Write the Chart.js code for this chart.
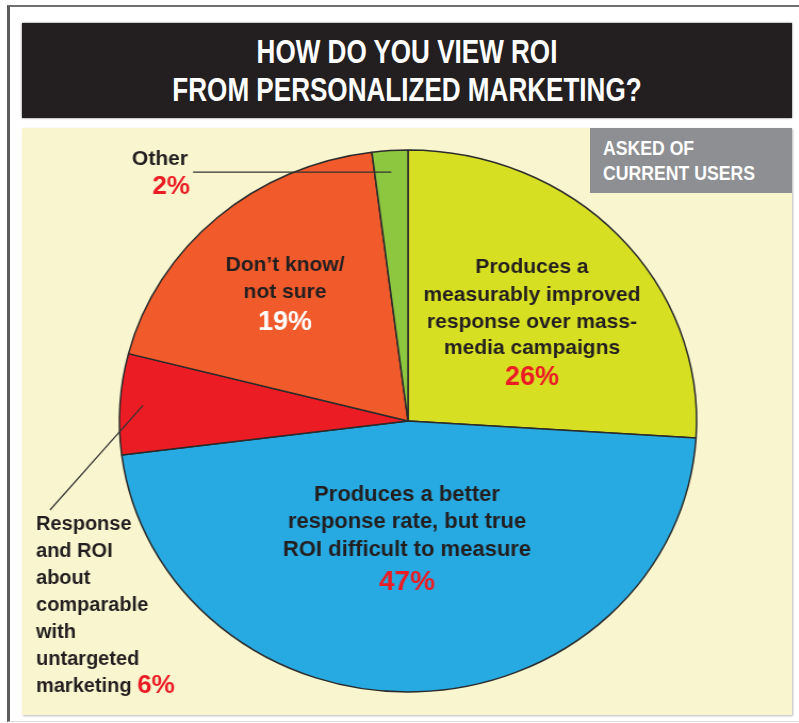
<!DOCTYPE html>
<html>
<head>
<meta charset="utf-8">
<script src="https://cdn.jsdelivr.net/npm/chart.js@4.4.1/dist/chart.umd.min.js"></script>
<style>
  body { margin: 0; background: #fff; width: 799px; height: 723px; overflow: hidden; position: relative;
         font-family: "Liberation Sans", Arial, sans-serif; }
  #frame { position: absolute; left: 7px; top: 5px; width: 800px; height: 717px; box-sizing: border-box;
           border-left: 3px solid #5c5c5c; border-top: 2px solid #707070; border-bottom: 1px solid #ddd; }
  #title { position: absolute; left: 22px; top: 23px; width: 770px; height: 95px; background: #231f20;
           box-shadow: 0 0 2px #666; }
  #title div { position: absolute; left: 0; width: 770px; text-align: center; color: #fff; font-weight: bold;
               font-size: 33px; line-height: 36px; transform: scaleX(0.79); }
  #panel { position: absolute; left: 22px; top: 128px; width: 770px; height: 587px; background: #f9f6cf;
           box-shadow: 1px 1px 2px #bbb; overflow: hidden; }
  #badge { position: absolute; left: 590px; top: 128px; width: 202px; height: 65px; background: #8e8f92; }
  #badge div { position: absolute; left: 13px; color: #fff; font-weight: bold; font-size: 21px; line-height: 24px;
               transform: scaleX(0.84); transform-origin: left center; white-space: nowrap; }
  /* the printed pie is a little wider than tall */
  canvas { position: absolute; left: 0; top: 0; transform: scaleX(1.065); transform-origin: 386px 0; }
</style>
</head>
<body>
<div id="frame"></div>
<div id="title">
  <div style="top:11px">HOW DO YOU VIEW ROI</div>
  <div style="top:49px">FROM PERSONALIZED MARKETING?</div>
</div>
<div id="panel"><canvas id="pieChart" width="770" height="587"></canvas></div>
<div id="badge">
  <div style="top:8px">ASKED OF</div>
  <div style="top:33px">CURRENT USERS</div>
</div>
<script>
// slices, clockwise from 12 o'clock
const categories = [
  "Produces a measurably improved response over mass-media campaigns",
  "Produces a better response rate, but true ROI difficult to measure",
  "Response and ROI about comparable with untargeted marketing",
  "Don't know/not sure",
  "Other"
];
const shares = [26, 47, 6, 19, 2];
const sliceColors = ["#d7df23", "#27a9e1", "#ec1c24", "#f15a2a", "#8dc63f"];

// label text as printed
const improvedLines = ["Produces a", "measurably improved", "response over mass-", "media campaigns"];
const betterLines = ["Produces a better", "response rate, but true", "ROI difficult to measure"];
const dontKnowLines = ["Don\u2019t know/", "not sure"];
const comparableLines = ["Response", "and ROI", "about", "comparable", "with", "untargeted", "marketing"];

const SX = 1.065; // must match the css scaleX on the canvas
const ctx = document.getElementById("pieChart").getContext("2d");

const FONT = "\"Liberation Sans\", Arial, sans-serif";
const DARK = "#231f20";
const RED = "#ec1c24";

const labelPlugin = {
    id: "sliceLabels",
    afterDatasetsDraw(chart) {
        const arcs = chart.getDatasetMeta(0).data;
        const cx = arcs[0].x;
        const cy = arcs[0].y;
        const R = arcs[0].outerRadius;
        const c = chart.ctx;

        // point inside a slice, in the un-stretched label space
        const midPoint = (arc, f) => {
            const a = (arc.startAngle + arc.endAngle) / 2;
            return { x: cx + Math.cos(a) * R * f * SX, y: cy + Math.sin(a) * R * f };
        };
        const pct = i => shares[i] + "%";

        c.save();
        // undo the horizontal stretch for text and leader lines
        c.setTransform(1 / SX, 0, 0, 1, cx * (1 - 1 / SX), 0);
        c.textBaseline = "middle";
        c.textAlign = "center";

        // 26%
        c.font = "bold 21px " + FONT;
        c.fillStyle = DARK;
        [-154, -126, -99, -73].forEach((dy, k) => c.fillText(improvedLines[k], cx + 124, cy + dy));
        c.font = "bold 27px " + FONT;
        c.fillStyle = RED;
        c.fillText(pct(0), cx + 124, cy - 43);

        // 47%
        c.font = "bold 22px " + FONT;
        c.fillStyle = DARK;
        [74, 101, 129].forEach((dy, k) => c.fillText(betterLines[k], cx - 1, cy + dy));
        c.font = "bold 28px " + FONT;
        c.fillStyle = RED;
        c.fillText(pct(1), cx - 1, cy + 161);

        // 19%
        c.font = "bold 21px " + FONT;
        c.fillStyle = DARK;
        [-156, -129].forEach((dy, k) => c.fillText(dontKnowLines[k], cx - 123, cy + dy));
        c.font = "bold 27px " + FONT;
        c.fillStyle = "#fff";
        c.fillText(pct(3), cx - 123, cy - 98);

        // Other 2%
        c.textAlign = "right";
        c.font = "bold 21px " + FONT;
        c.fillStyle = DARK;
        c.fillText("Other", cx - 220, cy - 262);
        c.font = "bold 26px " + FONT;
        c.fillStyle = RED;
        c.fillText(pct(4), cx - 218, cy - 234);
        const pOther = midPoint(arcs[4], 0.92);
        c.strokeStyle = "#333";
        c.lineWidth = 1.3;
        c.beginPath();
        c.moveTo(cx - 215, pOther.y);
        c.lineTo(pOther.x, pOther.y);
        c.stroke();

        // 6% on the left
        c.textAlign = "left";
        c.font = "bold 20px " + FONT;
        c.fillStyle = DARK;
        comparableLines.forEach((t, k) => c.fillText(t, cx - 372, cy + 103 + k * 27));
        const wMk = c.measureText(comparableLines[6] + " ").width;
        c.font = "bold 26px " + FONT;
        c.fillStyle = RED;
        c.fillText(pct(2), cx - 372 + wMk, cy + 265);
        const pRed = midPoint(arcs[2], 0.92);
        c.beginPath();
        c.moveTo(pRed.x, pRed.y);
        c.lineTo(cx - 358, cy + 89);
        c.stroke();

        c.restore();
    }
};

new Chart(ctx, {
    type: "pie",
    data: {
        labels: categories,
        datasets: [{
            data: shares,
            backgroundColor: sliceColors,
            borderColor: "#2b2b2b",
            borderWidth: 1.5
        }]
    },
    options: {
        responsive: false,
        animation: false,
        radius: 271,
        layout: { padding: { left: 2, right: 0, top: 0, bottom: 1 } },
        plugins: {
            legend: { display: false },
            tooltip: { enabled: false }
        }
    },
    plugins: [labelPlugin]
});
</script>
</body>
</html>
